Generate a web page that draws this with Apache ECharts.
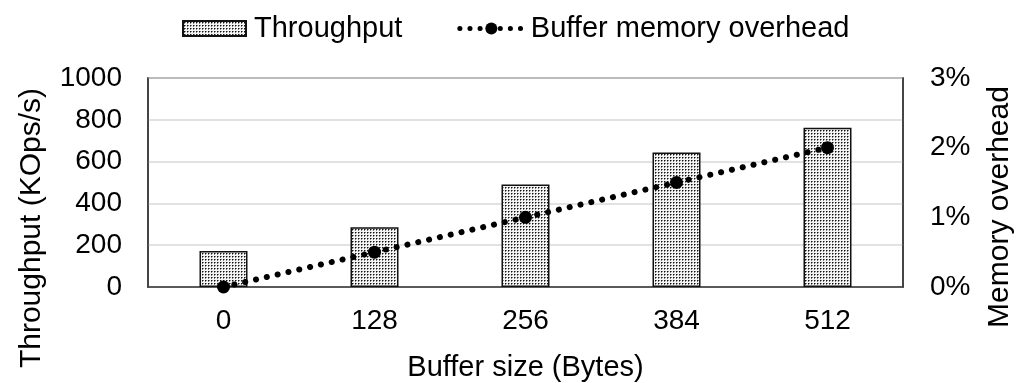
<!DOCTYPE html>
<html>
<head>
<meta charset="utf-8">
<script src="https://cdn.jsdelivr.net/npm/echarts@6/dist/echarts.min.js"></script>
<style>
  html, body { margin: 0; padding: 0; background: #fff; }
  #chart { width: 1018px; height: 383px; }
</style>
</head>
<body>
<div id="chart"></div>
<script>
// ---- data ----
const categories = ['0', '128', '256', '384', '512'];
const throughput = [172, 286, 491, 643, 762];        // KOps/s
const memoryOverhead = [0, 0.5, 1, 1.5, 2];          // percent
const leftTicks = { min: 0, max: 1000, interval: 200 };
const rightTicks = { min: 0, max: 3, interval: 1 };

const FONT = "'Liberation Sans', Arial, Helvetica, sans-serif";

// stipple pattern for bars
function makePattern() {
  const c = document.createElement('canvas');
  c.width = 3; c.height = 3;
  const ctx = c.getContext('2d');
  ctx.fillStyle = '#f4f4f4';
  ctx.fillRect(0, 0, 3, 3);
  ctx.fillStyle = '#111';
  ctx.fillRect(1, 1, 1, 1);
  ctx.fillStyle = '#808080';
  ctx.fillRect(2, 1, 1, 1);
  ctx.fillRect(1, 2, 1, 1);
  return c;
}
const pattern = { image: makePattern(), repeat: 'repeat' };

const dottedLine = { color: '#000', width: 6, type: [0.1, 11], cap: 'round' };

const chart = echarts.init(document.getElementById('chart'), null, { renderer: 'canvas' });

const option = {
  backgroundColor: '#fff',
  animation: false,
  textStyle: { fontFamily: FONT, color: '#000' },
  legend: {
    left: 177,
    top: 9,
    itemWidth: 63,
    itemHeight: 15,
    itemGap: 55,
    textStyle: { fontFamily: FONT, fontSize: 29, color: '#000', padding: [0, 0, 0, 3] },
    data: [
      { name: 'Throughput', icon: 'rect' },
      { name: 'Buffer memory overhead', lineStyle: { color: '#000', width: 5, type: [0.1, 10], cap: 'round' } }
    ]
  },
  grid: {
    left: 148, right: 115, top: 78, bottom: 96,
    outerBoundsMode: 'none',
    containLabel: false,
    show: true, borderColor: '#3a3a3a', borderWidth: 1.5, backgroundColor: 'transparent'
  },
  xAxis: {
    type: 'category',
    data: categories,
    boundaryGap: true,
    name: 'Buffer size (Bytes)',
    nameLocation: 'middle',
    nameGap: 66,
    nameTextStyle: { fontFamily: FONT, fontSize: 29, color: '#000' },
    axisLine: { lineStyle: { color: '#3a3a3a', width: 1.5 } },
    axisTick: { show: false },
    axisLabel: { fontFamily: FONT, fontSize: 28, color: '#000', margin: 20 }
  },
  yAxis: [
    {
      type: 'value',
      min: leftTicks.min, max: leftTicks.max, interval: leftTicks.interval,
      axisLine: { show: true, lineStyle: { color: '#3a3a3a', width: 1.5 } },
      axisTick: { show: false },
      splitLine: { show: true, lineStyle: { color: '#d9d9d9', width: 1.5 } },
      axisLabel: { fontFamily: FONT, fontSize: 28, color: '#000', margin: 26, formatter: v => String(v) }
    },
    {
      type: 'value',
      min: rightTicks.min, max: rightTicks.max, interval: rightTicks.interval,
      position: 'right',
      axisLine: { show: true, lineStyle: { color: '#3a3a3a', width: 1.5 } },
      axisTick: { show: false },
      splitLine: { show: false },
      axisLabel: { fontFamily: FONT, fontSize: 28, color: '#000', margin: 27, formatter: v => v + '%' }
    }
  ],
  graphic: [
    {
      type: 'text', x: 32, y: 228, rotation: Math.PI / 2,
      style: { text: 'Throughput (KOps/s)', font: '30px ' + FONT, fill: '#000', align: 'center', verticalAlign: 'middle' }
    },
    {
      type: 'text', x: 1000, y: 207, rotation: Math.PI / 2,
      style: { text: 'Memory overhead', font: '30px ' + FONT, fill: '#000', align: 'center', verticalAlign: 'middle' }
    }
  ],
  series: [
    {
      name: 'Throughput',
      type: 'bar',
      yAxisIndex: 0,
      data: throughput,
      barWidth: 48,
      itemStyle: { color: pattern, borderColor: '#111', borderWidth: 1.5 }
    },
    {
      name: 'Buffer memory overhead',
      type: 'line',
      yAxisIndex: 1,
      data: memoryOverhead,
      symbol: 'circle',
      symbolSize: 13,
      z: 5,
      itemStyle: { color: '#000' },
      lineStyle: dottedLine
    }
  ]
};
chart.setOption(option);
</script>
</body>
</html>
